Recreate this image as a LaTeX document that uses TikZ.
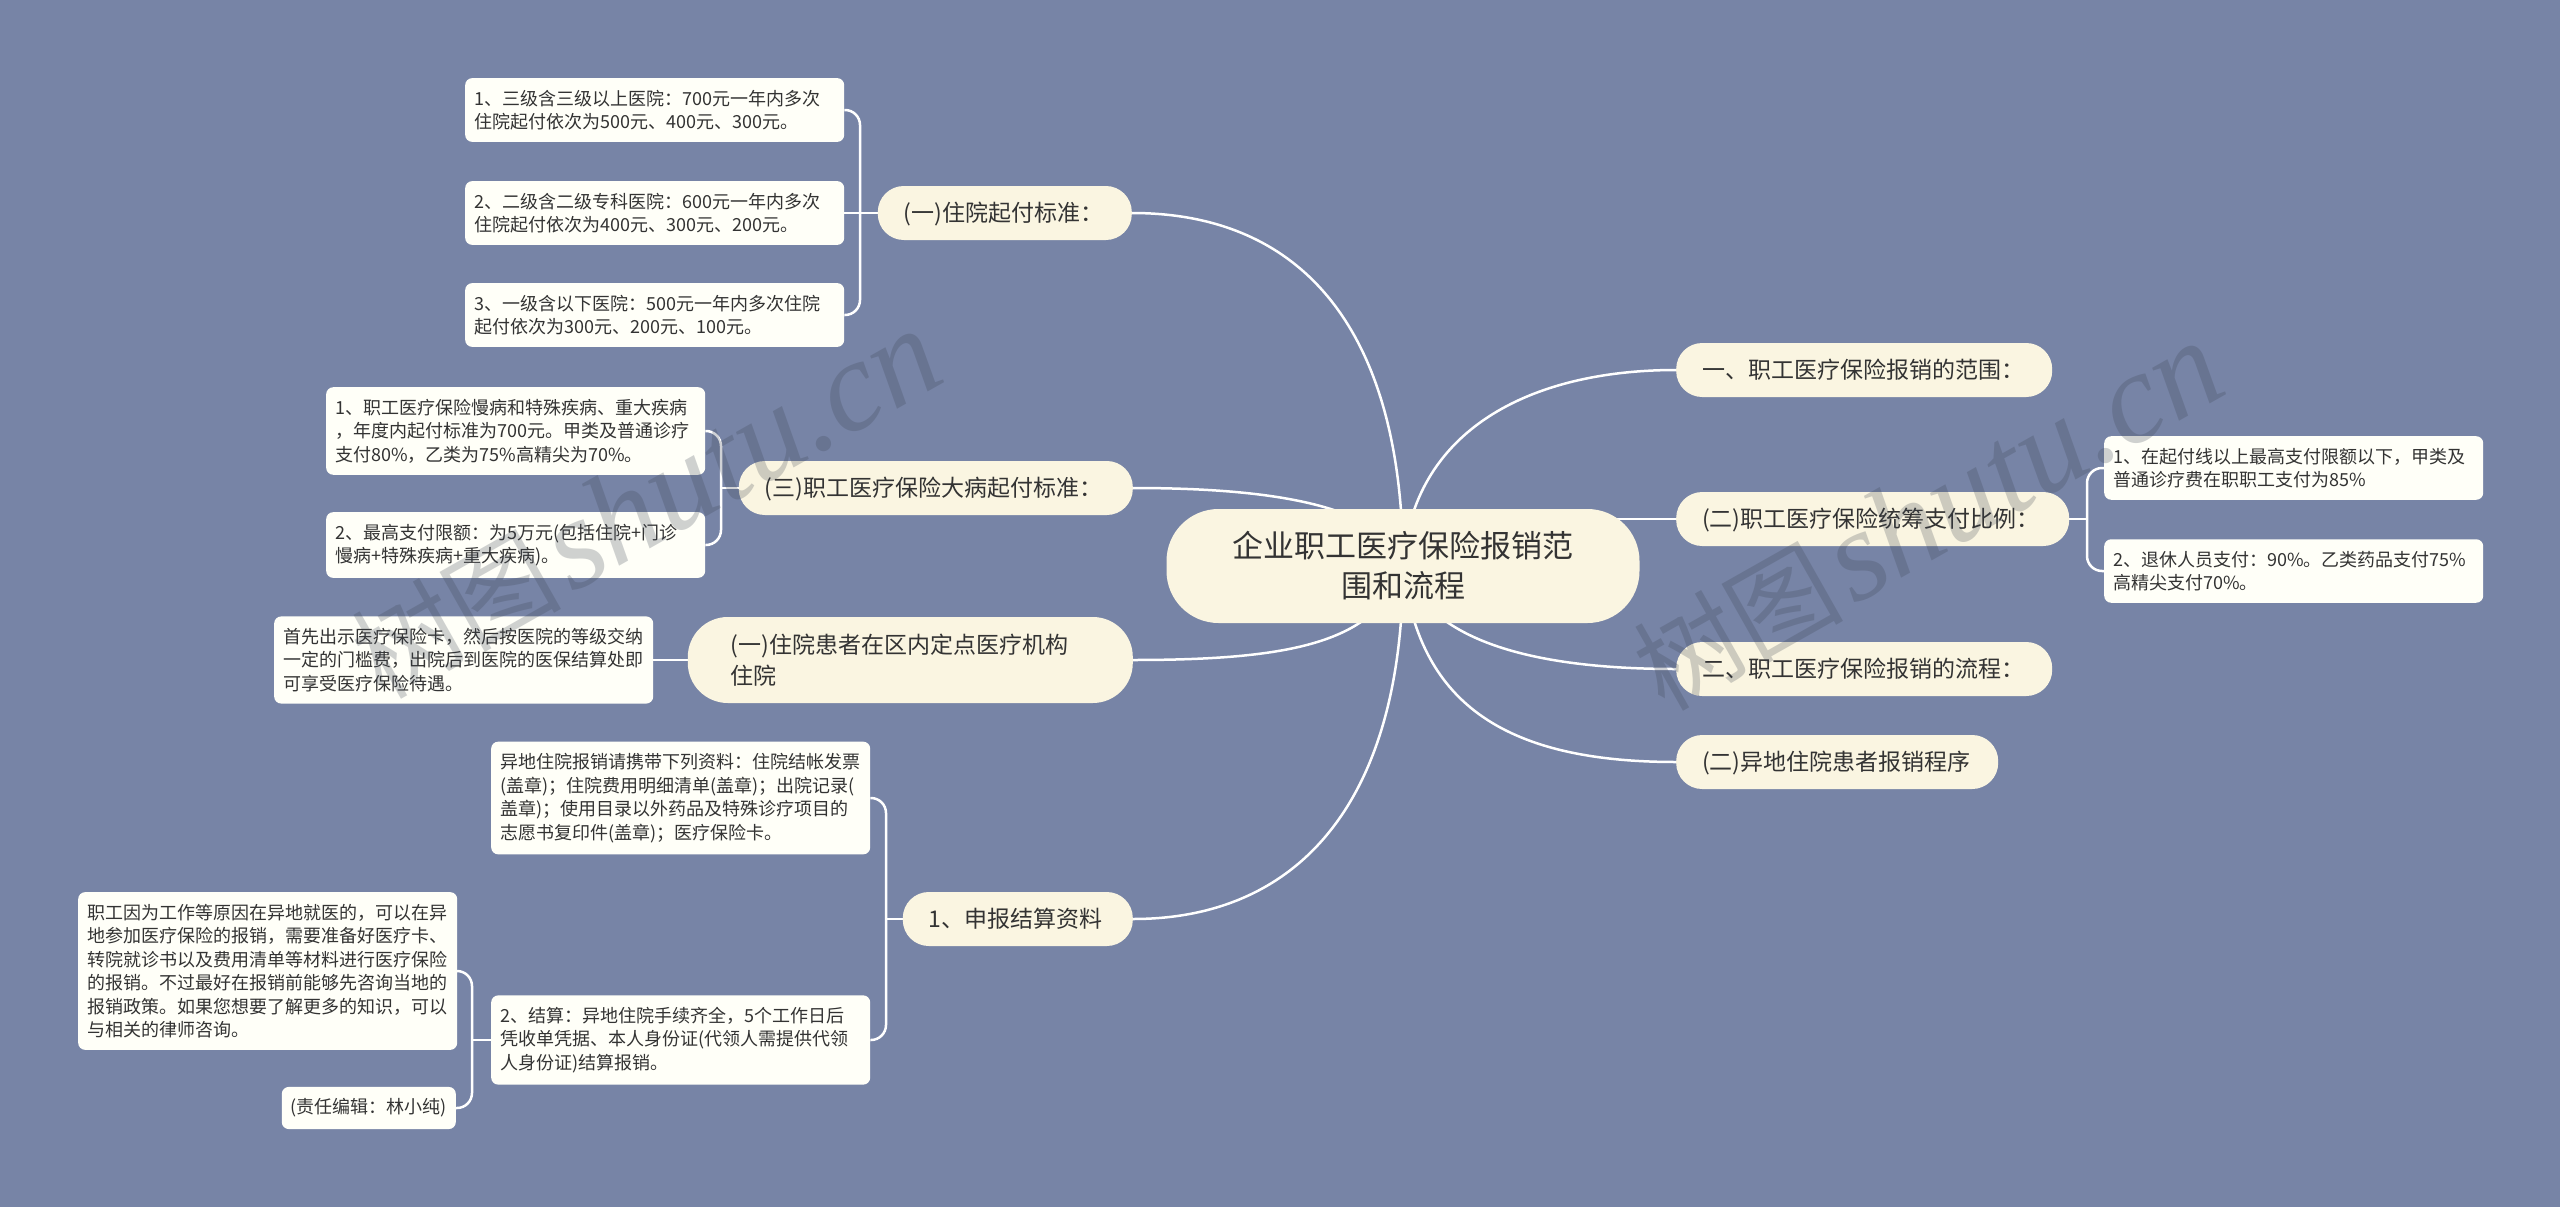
\documentclass[tikz,border=0pt]{standalone}
\usepackage{fontspec}
\setmainfont{Noto Sans CJK SC}
\newfontfamily\markfont{Liberation Serif}
\usepackage{tikz}
\usetikzlibrary{backgrounds}
\definecolor{pagebg}{HTML}{7784A6}
\definecolor{rootfill}{HTML}{FAF5E1}
\definecolor{leaffill}{HTML}{FFFFF8}
\definecolor{inktext}{HTML}{333333}
\definecolor{markink}{HTML}{3A4250}
\tikzstyle{every node}=[text=inktext,align=left]
\tikzstyle{rootbox}=[fill=rootfill,rounded corners=52pt,minimum width=473pt,minimum height=114pt,align=center,font=\fontsize{31}{40}\selectfont]
\tikzstyle{branchbox}=[fill=rootfill,rounded corners=26pt,minimum height=54pt,inner xsep=26pt,font=\fontsize{23}{31}\selectfont]
\tikzstyle{oneline}=[text height=19pt,text depth=3pt]
\tikzstyle{leafbox}=[fill=leaffill,rounded corners=7pt,inner xsep=9pt,inner ysep=11.7pt,text width=361pt,font=\fontsize{18}{23.5}\selectfont]
\tikzstyle{link}=[draw=white,line width=2.5pt]
\tikzstyle{fork}=[draw=white,line width=2.5pt,rounded corners=15pt]
\tikzstyle{markbox}=[text=markink,opacity=0.24,text opacity=0.24,rotate=29.5,font=\fontsize{105}{116}\selectfont]

\begin{document}
\begin{tikzpicture}[x=1pt,y=-1pt]
\useasboundingbox (0,0) rectangle (2560,1207);
\node[rootbox] (root) at (1403,566) {企业职工医疗保险报销范\\围和流程};

\node[branchbox,oneline,text width=202pt,anchor=east] (startline) at (1132,213) {(一)住院起付标准：};
\node[branchbox,oneline,text width=342pt,anchor=east] (serious) at (1133,488) {(三)职工医疗保险大病起付标准：};
\node[branchbox,text width=359pt,anchor=east,inner xsep=43pt,minimum height=86pt,rounded corners=40pt] (inpatient) at (1133,660) {(一)住院患者在区内定点医疗机构\\住院};
\node[branchbox,oneline,text width=178pt,anchor=east] (declare) at (1133,919) {1、申报结算资料};
\node[branchbox,oneline,text width=324pt,anchor=west] (scope) at (1676,370) {一、职工医疗保险报销的范围：};
\node[branchbox,oneline,text width=341pt,anchor=west] (ratio) at (1676,519) {(二)职工医疗保险统筹支付比例：};
\node[branchbox,oneline,text width=324pt,anchor=west] (process) at (1676,669) {二、职工医疗保险报销的流程：};
\node[branchbox,oneline,text width=270pt,anchor=west] (remote) at (1676,762) {(二)异地住院患者报销程序};

\node[leafbox,anchor=west] (startone) at (465,110) {1、三级含三级以上医院：700元一年内多次\\住院起付依次为500元、400元、300元。};
\node[leafbox,anchor=west] (starttwo) at (465,213) {2、二级含二级专科医院：600元一年内多次\\住院起付依次为400元、300元、200元。};
\node[leafbox,anchor=west] (startthree) at (465,315) {3、一级含以下医院：500元一年内多次住院\\起付依次为300元、200元、100元。};
\node[leafbox,anchor=west] (seriousone) at (326,431) {1、职工医疗保险慢病和特殊疾病、重大疾病\\，年度内起付标准为700元。甲类及普通诊疗\\支付80\%，乙类为75\%高精尖为70\%。};
\node[leafbox,anchor=west] (serioustwo) at (326,545) {2、最高支付限额：为5万元(包括住院+门诊\\慢病+特殊疾病+重大疾病)。};
\node[leafbox,anchor=west] (inpatientone) at (274,660) {首先出示医疗保险卡，然后按医院的等级交纳\\一定的门槛费，出院后到医院的医保结算处即\\可享受医疗保险待遇。};
\node[leafbox,anchor=west] (declareone) at (491,798) {异地住院报销请携带下列资料：住院结帐发票\\(盖章)；住院费用明细清单(盖章)；出院记录(\\盖章)；使用目录以外药品及特殊诊疗项目的\\志愿书复印件(盖章)；医疗保险卡。};
\node[leafbox,anchor=west] (declaretwo) at (491,1040) {2、结算：异地住院手续齐全，5个工作日后\\凭收单凭据、本人身份证(代领人需提供代领\\人身份证)结算报销。};
\node[leafbox,anchor=west] (detail) at (78,971) {职工因为工作等原因在异地就医的，可以在异\\地参加医疗保险的报销，需要准备好医疗卡、\\转院就诊书以及费用清单等材料进行医疗保险\\的报销。不过最好在报销前能够先咨询当地的\\报销政策。如果您想要了解更多的知识，可以\\与相关的律师咨询。};
\node[leafbox,anchor=east,text width=156pt,minimum height=41pt] (editor) at (456,1108) {(责任编辑：林小纯)};
\node[leafbox,anchor=west] (ratioone) at (2104,468) {1、在起付线以上最高支付限额以下，甲类及\\普通诊疗费在职职工支付为85\%};
\node[leafbox,anchor=west] (ratiotwo) at (2104,571) {2、退休人员支付：90\%。乙类药品支付75\%\\高精尖支付70\%。};

\coordinate (forkstart) at (860,213);
\coordinate (forkserious) at (721,488);
\coordinate (forkdeclare) at (886,919);
\coordinate (forkdetail) at (472,1040);
\coordinate (forkratio) at (2087,519);

\begin{scope}[on background layer]
\fill[pagebg] (0,0) rectangle (2560,1207);
\draw[link] (startline.east) .. controls (1310,213) and (1403,340) .. (root.center);
\draw[link] (serious.east) .. controls (1250,488) and (1385,500) .. (root.center);
\draw[link] (inpatient.east) .. controls (1300,660) and (1378,640) .. (root.center);
\draw[link] (declare.east) .. controls (1300,919) and (1403,800) .. (root.center);
\draw[link] (scope.west) .. controls (1530,370) and (1412,430) .. (root.center);
\draw[link] (ratio.west) -- (ratio.west -| root.center);
\draw[link] (process.west) .. controls (1530,669) and (1428,640) .. (root.center);
\draw[link] (remote.west) .. controls (1500,762) and (1418,700) .. (root.center);
\draw[fork] (startone.east) -| (forkstart) |- (startthree.east);
\draw[link] (starttwo.east) -- (startline.west);
\draw[fork] (seriousone.east) -| (forkserious) |- (serioustwo.east);
\draw[link] (forkserious) -- (serious.west);
\draw[link] (inpatientone.east) -- (inpatient.west);
\draw[fork] (declareone.east) -| (forkdeclare) |- (declaretwo.east);
\draw[link] (forkdeclare) -- (declare.west);
\draw[fork] (detail.east) -| (forkdetail) |- (editor.east);
\draw[link] (forkdetail) -- (declaretwo.west);
\draw[fork] (ratioone.west) -| (forkratio) |- (ratiotwo.west);
\draw[link] (forkratio) -- (ratio.east);
\end{scope}

\node[markbox] (markleft) at (646,505) {树图\hspace{8pt}{\markfont\itshape\fontsize{129}{129}\selectfont shutu.cn}};
\node[markbox] (markright) at (1928,517) {树图\hspace{8pt}{\markfont\itshape\fontsize{129}{129}\selectfont shutu.cn}};
\end{tikzpicture}
\end{document}
